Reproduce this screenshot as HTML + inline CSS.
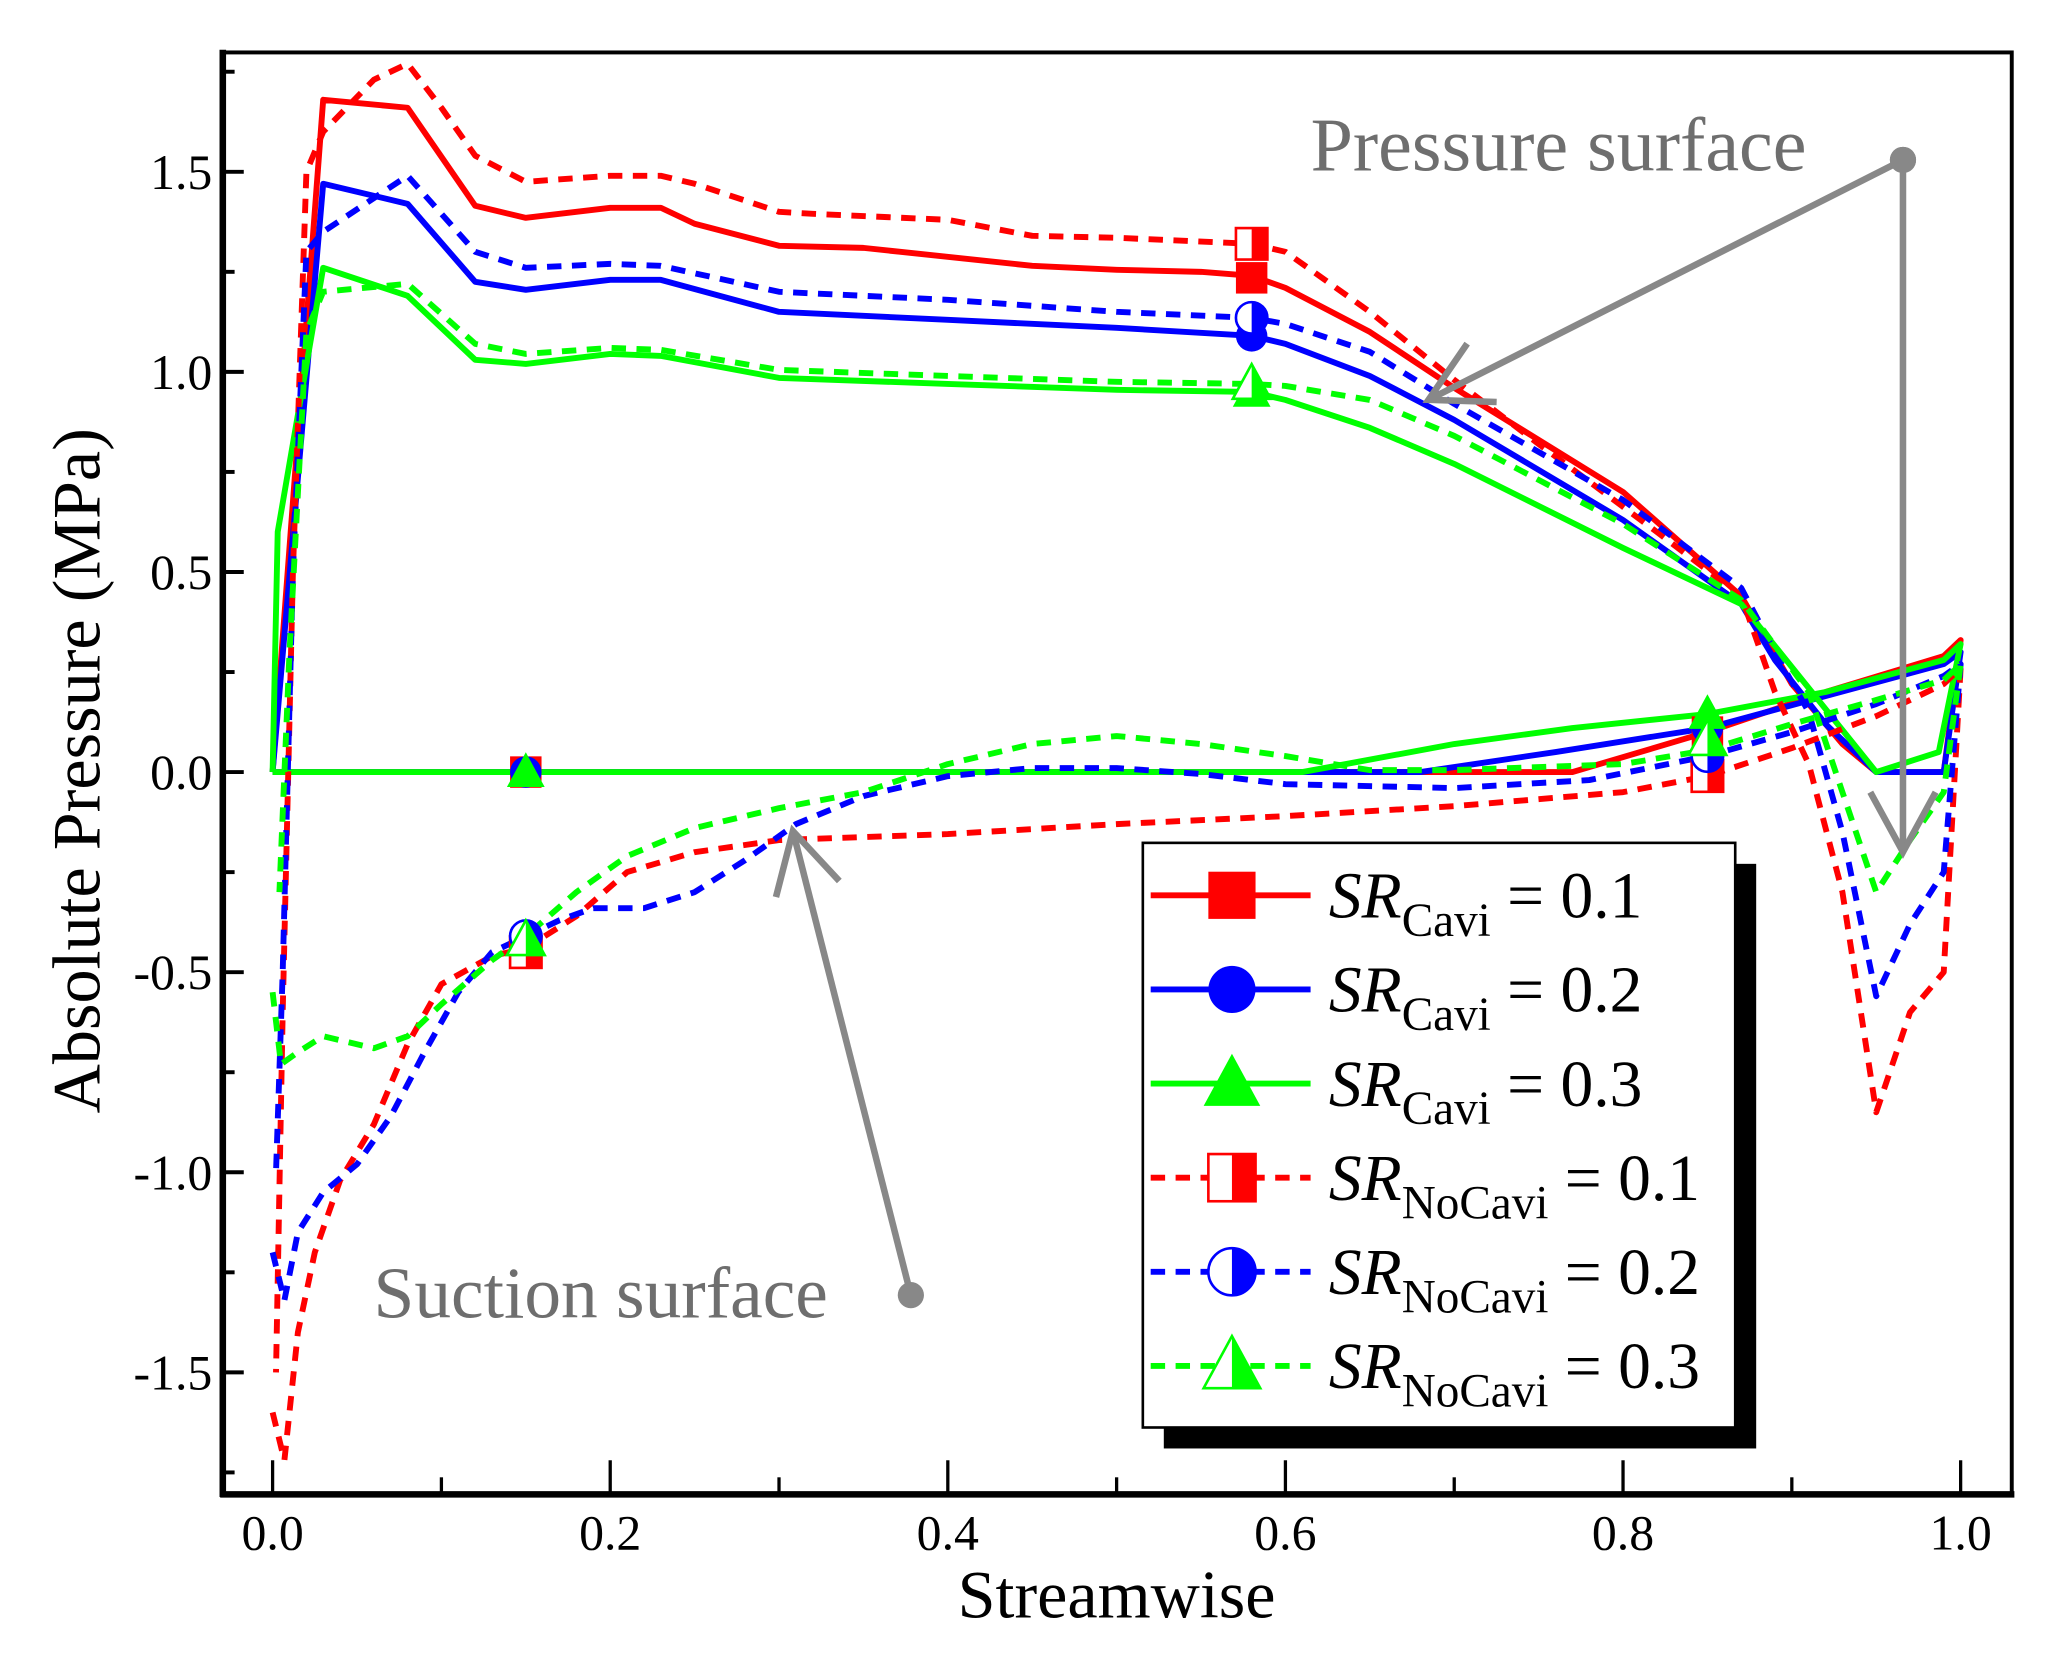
<!DOCTYPE html>
<html><head><meta charset="utf-8"><style>
html,body{margin:0;padding:0;background:#fff;}
svg{display:block;font-family:"Liberation Serif","Times New Roman",serif;}
svg text{font-family:"Liberation Serif","Times New Roman",serif;}
</style></head><body>
<svg id="chart" width="2055" height="1670" viewBox="0 0 1568 1274" preserveAspectRatio="none" xmlns="http://www.w3.org/2000/svg" font-family="Liberation Serif, serif">
<rect x="0" y="0" width="1568" height="1274" fill="#fff"/>
<g id="plot"></g>
</svg>
<script>
const xTicks = [0, 0.2, 0.4, 0.6, 0.8, 1.0];
const xTickLabels = ["0.0", "0.2", "0.4", "0.6", "0.8", "1.0"];
const yTicks = [1.5, 1.0, 0.5, 0.0, -0.5, -1.0, -1.5];
const yTickLabels = ["1.5", "1.0", "0.5", "0.0", "-0.5", "-1.0", "-1.5"];

const cavi1X = [0,0.77,0.85,0.92,0.99,1.0,0.99,0.95,0.93,0.90,0.87,0.8,0.7,0.65,0.6,0.58,0.55,0.5,0.45,0.35,0.3,0.25,0.23,0.2,0.15,0.12,0.08,0.03,0.0];
const cavi1Y = [0,0,0.10,0.2,0.29,0.33,0,0,0.07,0.22,0.44,0.70,0.96,1.10,1.21,1.24,1.25,1.255,1.265,1.31,1.315,1.37,1.41,1.41,1.385,1.415,1.66,1.68,0.0];
const cavi2X = [0,0.68,0.76,0.85,0.92,0.99,1.0,0.99,0.95,0.92,0.89,0.87,0.8,0.7,0.65,0.6,0.58,0.5,0.4,0.3,0.23,0.2,0.15,0.12,0.08,0.03,0];
const cavi2Y = [0,0,0.05,0.11,0.19,0.27,0.30,0,0,0.12,0.28,0.42,0.63,0.88,0.99,1.07,1.09,1.11,1.13,1.15,1.23,1.23,1.205,1.225,1.42,1.47,0];
const cavi3X = [0,0.61,0.70,0.77,0.85,0.92,0.99,1.0,0.987,0.95,0.87,0.8,0.7,0.65,0.6,0.58,0.5,0.4,0.3,0.23,0.2,0.15,0.12,0.08,0.03,0.003,0];
const cavi3Y = [0,0,0.07,0.11,0.145,0.2,0.28,0.32,0.05,0.0,0.42,0.56,0.77,0.86,0.93,0.95,0.955,0.97,0.985,1.04,1.045,1.02,1.03,1.19,1.26,0.6,0];
const noCavi1X = [0,0.007,0.015,0.025,0.04,0.06,0.08,0.1,0.13,0.15,0.18,0.21,0.25,0.3,0.4,0.5,0.6,0.7,0.8,0.85,0.9,0.95,0.99,1.0,0.99,0.97,0.95,0.93,0.91,0.89,0.87,0.82,0.75,0.7,0.65,0.6,0.58,0.5,0.45,0.4,0.32,0.3,0.25,0.23,0.2,0.15,0.12,0.1,0.08,0.06,0.03,0.02,0.012,0.006,0.002];
const noCavi1Y = [-1.6,-1.72,-1.4,-1.2,-1.02,-0.88,-0.68,-0.53,-0.46,-0.44,-0.36,-0.25,-0.2,-0.17,-0.155,-0.13,-0.11,-0.085,-0.05,-0.01,0.06,0.14,0.22,0.26,-0.5,-0.6,-0.85,-0.3,0.02,0.2,0.44,0.6,0.82,0.98,1.15,1.3,1.32,1.335,1.34,1.38,1.395,1.40,1.47,1.49,1.49,1.475,1.54,1.66,1.77,1.73,1.6,1.5,0.5,-0.6,-1.5];
const noCavi2X = [0,0.007,0.015,0.03,0.05,0.07,0.09,0.11,0.13,0.15,0.17,0.19,0.22,0.25,0.28,0.31,0.35,0.4,0.45,0.5,0.55,0.6,0.7,0.78,0.85,0.9,0.95,0.99,1.0,0.99,0.97,0.95,0.93,0.91,0.89,0.87,0.8,0.7,0.65,0.6,0.58,0.5,0.4,0.3,0.23,0.2,0.15,0.12,0.08,0.03,0.02,0.012,0.006,0.002];
const noCavi2Y = [-1.2,-1.32,-1.15,-1.05,-0.98,-0.86,-0.7,-0.55,-0.45,-0.41,-0.37,-0.34,-0.34,-0.3,-0.22,-0.13,-0.06,-0.01,0.01,0.01,-0.005,-0.03,-0.04,-0.02,0.04,0.1,0.17,0.24,0.27,-0.25,-0.38,-0.56,-0.15,0.15,0.3,0.46,0.68,0.92,1.05,1.12,1.135,1.15,1.18,1.20,1.265,1.27,1.26,1.30,1.49,1.35,1.3,0.5,-0.5,-1.0];
const noCavi3X = [0,0.005,0.015,0.03,0.06,0.08,0.1,0.13,0.15,0.18,0.21,0.25,0.3,0.35,0.4,0.45,0.5,0.55,0.6,0.65,0.7,0.8,0.85,0.9,0.95,0.99,1.0,0.99,0.97,0.95,0.93,0.91,0.87,0.8,0.7,0.65,0.6,0.58,0.5,0.4,0.3,0.23,0.2,0.15,0.12,0.08,0.03,0.02,0.01,0.004];
const noCavi3Y = [-0.55,-0.73,-0.7,-0.66,-0.69,-0.66,-0.58,-0.47,-0.41,-0.3,-0.21,-0.14,-0.09,-0.05,0.02,0.07,0.09,0.07,0.04,0.005,0.005,0.02,0.055,0.12,0.18,0.23,0.27,-0.05,-0.17,-0.30,-0.05,0.2,0.43,0.62,0.84,0.93,0.965,0.97,0.975,0.99,1.005,1.055,1.06,1.045,1.07,1.22,1.2,1.1,0.3,-0.3];

const markerX = [0.15, 0.58, 0.85];
const cavi1MarkY = [0, 1.235, 0.10];
const cavi2MarkY = [0, 1.09, 0.11];
const cavi3MarkY = [0, 0.95, 0.145];
const noCavi1MarkY = [-0.45, 1.32, -0.01];
const noCavi2MarkY = [-0.41, 1.135, 0.04];
const noCavi3MarkY = [-0.42, 0.97, 0.08];

const NS = "http://www.w3.org/2000/svg";
const FONT = "Liberation Serif, Times New Roman, serif";
const X0 = 208, X1 = 1496, Y0 = 589, YS = 305.3;
function sx(v){ return X0 + (X1 - X0) * v; }
function sy(v){ return Y0 - YS * v; }
const plot = document.getElementById("plot");
function el(tag, attrs, parent){
  const e = document.createElementNS(NS, tag);
  for (const k in attrs) e.setAttribute(k, attrs[k]);
  if (tag === "text") e.setAttribute("font-family", FONT);
  (parent || plot).appendChild(e);
  return e;
}

const defs = el("defs", {});
const cp = el("clipPath", {id: "clip"}, defs);
el("rect", {x: 172, y: 42, width: 1361, height: 1096}, cp);

const frame = el("rect", {x: 170, y: 40, width: 1365, height: 1100, fill: "none", stroke: "#000", "stroke-width": 3});


const leftAxis = el("line", {x1: 170, y1: 38, x2: 170, y2: 1142, stroke: "#000", "stroke-width": 5});


const botAxis = el("line", {x1: 168, y1: 1140, x2: 1537, y2: 1140, stroke: "#000", "stroke-width": 5});



for (let i = 0; i < xTicks.length; i++) {
  const x = sx(xTicks[i]);
  const t = el("line", {x1: x, y1: 1140, x2: x, y2: 1114, stroke: "#000", "stroke-width": 2.5});
  
  
  const lb = el("text", {x: x, y: 1182, "text-anchor": "middle", "font-size": 38});
  lb.textContent = xTickLabels[i];
  
  
  if (i < xTicks.length - 1) {
    const mx = sx((xTicks[i] + xTicks[i+1]) / 2);
    const m = el("line", {x1: mx, y1: 1140, x2: mx, y2: 1127, stroke: "#000", "stroke-width": 2.5});
    
    
  }
}
for (let i = 0; i < yTicks.length; i++) {
  const y = sy(yTicks[i]);
  const t = el("line", {x1: 170, y1: y, x2: 186, y2: y, stroke: "#000", "stroke-width": 3});
  
  
  const lb = el("text", {x: 162, y: y + 13, "text-anchor": "end", "font-size": 38});
  lb.textContent = yTickLabels[i];
  
  
}
const yMinor = [1.75, 1.25, 0.75, 0.25, -0.25, -0.75, -1.25, -1.75];
for (const v of yMinor) {
  const m = el("line", {x1: 170, y1: sy(v), x2: 179, y2: sy(v), stroke: "#000", "stroke-width": 3});
  
  
}

const xt = el("text", {x: 852, y: 1234, "text-anchor": "middle", "font-size": 52});
xt.textContent = "Streamwise";


const yt = el("text", {x: 0, y: 0, "text-anchor": "middle", "font-size": 52, transform: "translate(76,588) rotate(-90)"});
yt.textContent = "Absolute Pressure (MPa)";



const series = [
  {xs: cavi1X, ys: cavi1Y, my: cavi1MarkY, color: "#ff0000", dash: null, shape: "square", name: "series-cavi-0-1"},
  {xs: cavi2X, ys: cavi2Y, my: cavi2MarkY, color: "#0000ff", dash: null, shape: "circle", name: "series-cavi-0-2"},
  {xs: cavi3X, ys: cavi3Y, my: cavi3MarkY, color: "#00ff00", dash: null, shape: "triangle", name: "series-cavi-0-3"},
  {xs: noCavi1X, ys: noCavi1Y, my: noCavi1MarkY, color: "#ff0000", dash: "11 8", shape: "square", name: "series-nocavi-0-1"},
  {xs: noCavi2X, ys: noCavi2Y, my: noCavi2MarkY, color: "#0000ff", dash: "11 8", shape: "circle", name: "series-nocavi-0-2"},
  {xs: noCavi3X, ys: noCavi3Y, my: noCavi3MarkY, color: "#00ff00", dash: "11 8", shape: "triangle", name: "series-nocavi-0-3"}
];

function marker(parent, shape, cx, cy, color, half, size){
  const g = el("g", {}, parent);
  const s = size;
  if (shape === "square") {
    if (half) {
      el("rect", {x: cx - s/2, y: cy - s/2, width: s, height: s, fill: "#fff", stroke: color, "stroke-width": 2}, g);
      el("rect", {x: cx, y: cy - s/2, width: s/2, height: s, fill: color}, g);
    } else el("rect", {x: cx - s/2, y: cy - s/2, width: s, height: s, fill: color}, g);
  } else if (shape === "circle") {
    if (half) {
      el("circle", {cx: cx, cy: cy, r: s/2, fill: "#fff", stroke: color, "stroke-width": 2}, g);
      el("path", {d: `M${cx},${cy - s/2} A${s/2},${s/2} 0 0 1 ${cx},${cy + s/2} Z`, fill: color}, g);
    } else el("circle", {cx: cx, cy: cy, r: s/2, fill: color}, g);
  } else {
    const h = s * 1.05;
    const pts = `${cx},${cy - h*0.6} ${cx + s*0.6},${cy + h*0.45} ${cx - s*0.6},${cy + h*0.45}`;
    if (half) {
      el("polygon", {points: pts, fill: "#fff", stroke: color, "stroke-width": 2}, g);
      el("polygon", {points: `${cx},${cy - h*0.6} ${cx + s*0.6},${cy + h*0.45} ${cx},${cy + h*0.45}`, fill: color}, g);
    } else el("polygon", {points: pts, fill: color}, g);
  }
  return g;
}

const dataG = el("g", {"clip-path": "url(#clip)"});
for (const s of series) {
  let d = "";
  for (let i = 0; i < s.xs.length; i++) d += (i ? "L" : "M") + sx(s.xs[i]).toFixed(1) + "," + sy(s.ys[i]).toFixed(1);
  const attrs = {d: d, fill: "none", stroke: s.color, "stroke-width": 4.5, "stroke-linejoin": "round"};
  if (s.dash) attrs["stroke-dasharray"] = s.dash;
  const p = el("path", attrs, dataG);
  
  
}
for (const s of series) {
  for (let i = 0; i < markerX.length; i++) {
    const m = marker(dataG, s.shape, sx(markerX[i]), sy(s.my[i]), s.color, !!s.dash, 24);
    
    
  }
}

const gray = "#888";
function arrow(x1, y1, x2, y2, name){
  const g = el("g", {});
  
  
  el("line", {x1: x1, y1: y1, x2: x2, y2: y2, stroke: gray, "stroke-width": 5}, g);
  el("circle", {cx: x1, cy: y1, r: 10, fill: gray}, g);
  const ang = Math.atan2(y2 - y1, x2 - x1);
  const L = 52, a = 0.5;
  const p1 = [x2 - L*Math.cos(ang - a), y2 - L*Math.sin(ang - a)];
  const p2 = [x2 - L*Math.cos(ang + a), y2 - L*Math.sin(ang + a)];
  el("polyline", {points: `${p1[0]},${p1[1]} ${x2},${y2} ${p2[0]},${p2[1]}`, fill: "none", stroke: gray, "stroke-width": 5}, g);
}
arrow(1452, 122, 1090, 305, "pressure-arrow-1");
arrow(1452, 122, 1452, 650, "pressure-arrow-2");
arrow(695, 988, 605, 634, "suction-arrow");
const ps = el("text", {x: 1000, y: 130, "font-size": 58, fill: "#6e6e6e"});
ps.textContent = "Pressure surface";


const ss = el("text", {x: 285, y: 1005, "font-size": 56, fill: "#6e6e6e"});
ss.textContent = "Suction surface";



const lg = el("g", {});


el("rect", {x: 888, y: 659, width: 452, height: 446, fill: "#000"}, lg);
el("rect", {x: 872, y: 643, width: 452, height: 446, fill: "#fff", stroke: "#000", "stroke-width": 2}, lg);
const legendLabels = ["Cavi", "Cavi", "Cavi", "NoCavi", "NoCavi", "NoCavi"];
const legendVals = ["0.1", "0.2", "0.3", "0.1", "0.2", "0.3"];
for (let i = 0; i < series.length; i++) {
  const s = series[i];
  const y = 683 + i * 71.8;
  const eg = el("g", {}, lg);
  
  
  const la = {x1: 878, y1: y, x2: 1000, y2: y, stroke: s.color, "stroke-width": 4.5};
  if (s.dash) la["stroke-dasharray"] = "11 8";
  el("line", la, eg);
  marker(eg, s.shape, 940, y, s.color, !!s.dash, 36);
  const t = el("text", {x: 1014, y: y + 17, "font-size": 50}, eg);
  const t1 = el("tspan", {"font-style": "italic"}, t); t1.textContent = "SR";
  const t2 = el("tspan", {"font-size": 36, dy: 14}, t); t2.textContent = legendLabels[i];
  const t3 = el("tspan", {dy: -14}, t); t3.textContent = " = " + legendVals[i];
}
</script>
</body></html>
